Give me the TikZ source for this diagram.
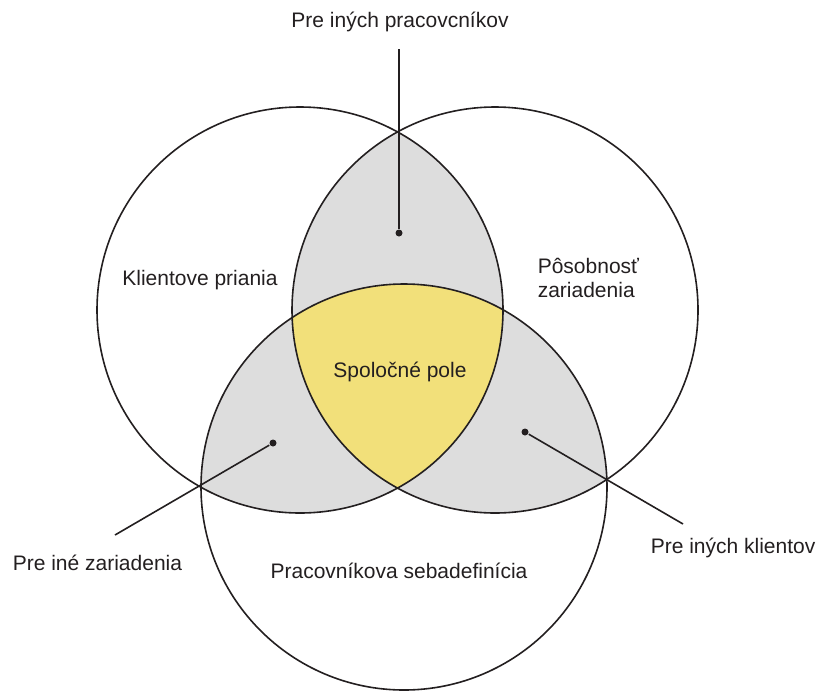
\documentclass[tikz,border=0pt]{standalone}
\usepackage{fontspec}
\setmainfont{Liberation Sans}
\definecolor{venngray}{RGB}{221,221,221}
\definecolor{vennyellow}{RGB}{242,224,122}
\definecolor{ink}{RGB}{35,31,32}

\begin{document}
\begin{tikzpicture}[x=1pt, y=-1pt, line width=1.6pt, draw=ink, text=ink,
		font=\fontsize{21}{24}\selectfont,
		lbl/.style={anchor=base, inner sep=0pt},
		dot/.style={circle, fill=ink, inner sep=0pt, minimum size=7pt}]
	\useasboundingbox (0,0) rectangle (816,691);
	\coordinate (cl) at (300,310);
	\coordinate (cr) at (495,310);
	\coordinate (cb) at (404,487);
	% overlaps
	\begin{scope}
		\clip (cl) circle[radius=203pt];
		\fill[venngray] (cr) circle[radius=203pt];
		\fill[venngray] (cb) circle[radius=203pt];
	\end{scope}
	\begin{scope}
		\clip (cr) circle[radius=203pt];
		\fill[venngray] (cb) circle[radius=203pt];
	\end{scope}
	\begin{scope}
		\clip (cl) circle[radius=203pt];
		\clip (cr) circle[radius=203pt];
		\fill[vennyellow] (cb) circle[radius=203pt];
	\end{scope}
	\draw (cl) circle[radius=203pt];
	\draw (cr) circle[radius=203pt];
	\draw (cb) circle[radius=203pt];
	% pointers
	\node[dot] (dtop) at (399,233) {};
	\node[dot] (dleft) at (273,443) {};
	\node[dot] (dright) at (525,432) {};
	\coordinate (etop) at (399,49);
	\coordinate (eleft) at (115,535);
	\coordinate (eright) at (683,524);
	\draw (dtop) -- (etop);
	\draw (dleft) -- (eleft);
	\draw (dright) -- (eright);
	% labels
	\node[lbl] (pracovnici) at (400,27) {Pre iných pracovcníkov};
	\node[lbl] (priania) at (200,285) {Klientove priania};
	\node[anchor=west, inner sep=0pt, align=left] (posobnost) at (537,277.5) {Pôsobnosť\\zariadenia};
	\node[lbl] (spolocne) at (400,377) {Spoločné pole};
	\node[lbl] (sebadef) at (399,578) {Pracovníkova sebadefinícia};
	\node[lbl, anchor=base west] (zariadenia) at (12,570) {Pre iné zariadenia};
	\node[lbl, anchor=base west] (klienti) at (650,553) {Pre iných klientov};
\end{tikzpicture}
\end{document}
